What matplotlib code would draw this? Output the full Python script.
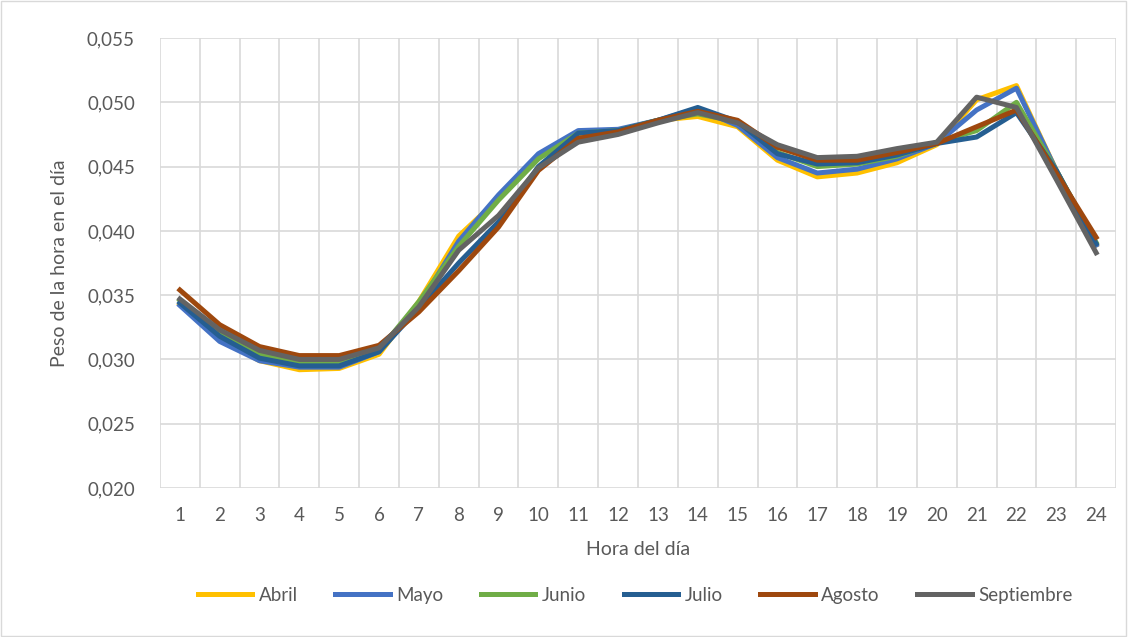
import numpy as np
import matplotlib.pyplot as plt
from matplotlib.ticker import FuncFormatter, MultipleLocator

# --- datos ---
horas = list(range(1, 25))
abril = [0.0343, 0.0316, 0.0299, 0.0292, 0.0293, 0.0304, 0.0345, 0.0396, 0.0425, 0.0457,
         0.0476, 0.0478, 0.0486, 0.0489, 0.0481, 0.0455, 0.0442, 0.0445, 0.0453, 0.0467,
         0.0502, 0.0513, 0.0447, 0.0389]
mayo = [0.0342, 0.0314, 0.0299, 0.0294, 0.0294, 0.0306, 0.0342, 0.0392, 0.0428, 0.0460,
        0.0478, 0.0479, 0.0486, 0.0495, 0.0482, 0.0457, 0.0445, 0.0448, 0.0456, 0.0468,
        0.0494, 0.0511, 0.0447, 0.0389]
junio = [0.0346, 0.0320, 0.0304, 0.0297, 0.0297, 0.0307, 0.0345, 0.0388, 0.0424, 0.0456,
         0.0476, 0.0478, 0.0486, 0.0491, 0.0485, 0.0461, 0.0450, 0.0452, 0.0458, 0.0469,
         0.0478, 0.0500, 0.0447, 0.0391]
julio = [0.0344, 0.0318, 0.0301, 0.0295, 0.0295, 0.0306, 0.0340, 0.0375, 0.0407, 0.0450,
         0.0476, 0.0478, 0.0486, 0.0496, 0.0485, 0.0460, 0.0452, 0.0453, 0.0459, 0.0468,
         0.0473, 0.0492, 0.0447, 0.0390]
agosto = [0.0354, 0.0327, 0.0310, 0.0303, 0.0303, 0.0311, 0.0337, 0.0369, 0.0403, 0.0447,
          0.0472, 0.0477, 0.0486, 0.0493, 0.0486, 0.0465, 0.0455, 0.0455, 0.0461, 0.0468,
          0.0481, 0.0494, 0.0445, 0.0395]
septiembre = [0.0347, 0.0323, 0.0307, 0.0300, 0.0300, 0.0309, 0.0341, 0.0385, 0.0412, 0.0449,
              0.0469, 0.0475, 0.0484, 0.0492, 0.0484, 0.0467, 0.0457, 0.0458, 0.0464, 0.0469,
              0.0504, 0.0496, 0.0440, 0.0383]

series = [("Abril", abril, "#FFC000"), ("Mayo", mayo, "#4472C4"), ("Junio", junio, "#70AD47"),
          ("Julio", julio, "#255E91"), ("Agosto", agosto, "#9E480E"),
          ("Septiembre", septiembre, "#636363")]

plt.rcParams['font.family'] = ['Lato', 'DejaVu Sans']
txt = '#595959'

fig = plt.figure(figsize=(11.28, 6.37), dpi=100)
ax = fig.add_axes([0.1418, 0.2339, 0.8476, 0.7064])

for nombre, vals, color in series:
    ax.plot(horas, vals, color=color, lw=3.6, label=nombre, solid_joinstyle='round')

ax.set_xlim(0.5, 24.5)
ax.set_ylim(0.020, 0.055)
ax.yaxis.set_major_locator(MultipleLocator(0.005))
ax.yaxis.set_major_formatter(FuncFormatter(lambda v, p: f"{v:.3f}".replace('.', ',')))
ax.set_xticks(horas)
ax.set_xticks(np.arange(0.5, 25, 1), minor=True)
ax.grid(True, which='major', axis='y', color='#D9D9D9', lw=1.2)
ax.grid(True, which='minor', axis='x', color='#D9D9D9', lw=1.2)
ax.set_axisbelow(True)
for s in ax.spines.values():
    s.set_visible(False)
ax.tick_params(which='both', length=0, labelsize=13.5, colors=txt)
ax.tick_params(axis='x', pad=14)
ax.tick_params(axis='y', pad=18)

ax.set_xlabel("Hora del día", fontsize=14, color=txt, labelpad=12)
ax.set_ylabel("Peso de la hora en el día", fontsize=14, color=txt, labelpad=14)

ax.legend(loc='center', bbox_to_anchor=(0.497, -0.238), ncol=6, frameon=False,
          fontsize=13.5, labelcolor=txt, handlelength=2.9, columnspacing=2.0, handletextpad=0.35)

fig.patches.append(plt.Rectangle((0.001, 0.002), 0.997, 0.996, transform=fig.transFigure,
                                 fill=False, edgecolor='#D9D9D9', lw=1))

fig.savefig("out.png", dpi=100)
